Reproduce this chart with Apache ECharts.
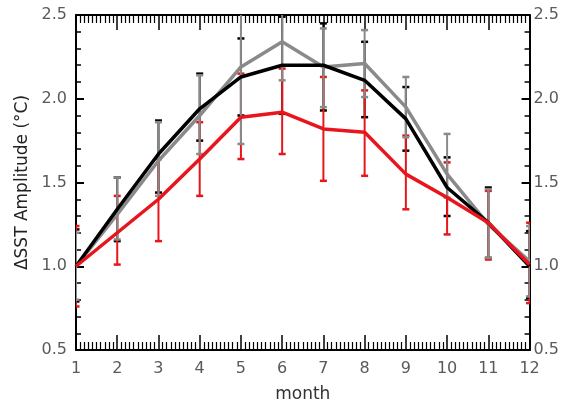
<!DOCTYPE html>
<html>
<head>
<meta charset="utf-8">
<script src="https://cdn.jsdelivr.net/npm/echarts@6/dist/echarts.min.js"></script>
<style>
html,body{margin:0;padding:0;background:#fff;overflow:hidden;width:562px;height:408px;}
#c{width:562px;height:408px;}
</style>
</head>
<body>
<div id="c"></div>
<script>
var months = [1,2,3,4,5,6,7,8,9,10,11,12];
var yTicks = [0.5,1.0,1.5,2.0,2.5];

var redVals   = [1.00,1.20,1.40,1.64,1.89,1.92,1.82,1.80,1.55,1.41,1.26,1.01];
var blackVals = [1.00,1.34,1.67,1.94,2.13,2.20,2.20,2.11,1.88,1.47,1.26,1.00];
var grayVals  = [1.00,1.31,1.63,1.90,2.19,2.34,2.19,2.21,1.95,1.55,1.25,1.03];

var redLow    = [0.76,1.01,1.15,1.42,1.64,1.67,1.51,1.54,1.34,1.19,1.04,0.78];
var redHigh   = [1.24,1.42,1.64,1.86,2.15,2.18,2.13,2.05,1.78,1.62,1.45,1.26];
var blackLow  = [0.79,1.15,1.44,1.75,1.90,1.91,1.93,1.89,1.69,1.30,1.05,0.81];
var blackHigh = [1.22,1.53,1.87,2.15,2.36,2.49,2.45,2.34,2.07,1.65,1.47,1.21];
var grayLow   = [0.80,1.16,1.42,1.67,1.73,2.11,1.95,2.01,1.77,1.41,1.05,0.82];
var grayHigh  = [1.20,1.53,1.86,2.14,2.65,2.57,2.42,2.41,2.13,1.79,1.46,1.24];

var RED = '#e8161c', BLACK = '#000000', GRAY = '#8a8a8a';
var FONT = 'DejaVu Sans, Liberation Sans, sans-serif';

function pairs(vals){ return months.map(function(m,i){ return [m, vals[i]]; }); }
function errData(lo, hi){ return months.map(function(m,i){ return [m, lo[i], hi[i]]; }); }

function errSeries(lo, hi, color, z){
  return {
    type: 'custom',
    xAxisIndex: 0, yAxisIndex: 0,
    clip: true,
    z: z,
    silent: true,
    data: errData(lo, hi),
    encode: { x: 0, y: [1, 2] },
    renderItem: function(params, api){
      var x = api.value(0);
      var p1 = api.coord([x, api.value(1)]);
      var p2 = api.coord([x, api.value(2)]);
      var hw = 3.5;
      return {
        type: 'group',
        children: [
          { type: 'line', shape: { x1: p1[0], y1: p1[1], x2: p2[0], y2: p2[1] }, style: { stroke: color, lineWidth: 2 } },
          { type: 'line', shape: { x1: p1[0]-hw, y1: p1[1], x2: p1[0]+hw, y2: p1[1] }, style: { stroke: color, lineWidth: 2.5 } },
          { type: 'line', shape: { x1: p2[0]-hw, y1: p2[1], x2: p2[0]+hw, y2: p2[1] }, style: { stroke: color, lineWidth: 2.5 } }
        ]
      };
    }
  };
}

function lineSeries(vals, color, z){
  return {
    type: 'line',
    xAxisIndex: 0, yAxisIndex: 0,
    data: pairs(vals),
    symbol: 'none',
    z: z,
    lineStyle: { color: color, width: 3.5 },
    silent: true
  };
}

var labelFont = { color: '#5a5a5a', fontSize: 16, fontFamily: FONT };

var xBase = {
  type: 'value', min: 1, max: 12, interval: 1,
  splitLine: { show: false },
  axisLine: { show: true, onZero: false, lineStyle: { color: '#000', width: 2 } },
  axisTick: { show: true, inside: true, length: 15, lineStyle: { color: '#000', width: 1.5 } },
  minorTick: { show: true, splitNumber: 10, length: 8, lineStyle: { color: '#000', width: 1.2 } }
};

var yBase = {
  type: 'value', min: 0.5, max: 2.5, interval: 0.5,
  splitLine: { show: false },
  axisLine: { show: true, onZero: false, lineStyle: { color: '#000', width: 2 } },
  axisTick: { show: true, inside: true, length: 8, lineStyle: { color: '#000', width: 2 } },
  minorTick: { show: true, splitNumber: 5, length: 5, lineStyle: { color: '#000', width: 1.5 } }
};

var option = {
  animation: false,
  backgroundColor: '#fff',
  grid: { left: 76, right: 28, top: 15, bottom: 51, containLabel: false },
  xAxis: [
    Object.assign({}, xBase, {
      position: 'bottom',
      name: 'month', nameLocation: 'middle', nameGap: 36,
      nameTextStyle: { color: '#333', fontSize: 17, fontFamily: FONT },
      axisLabel: Object.assign({ margin: 11, formatter: function(v){ return String(v); } }, labelFont)
    }),
    Object.assign({}, xBase, {
      position: 'top',
      axisLabel: { show: false }
    })
  ],
  yAxis: [
    Object.assign({}, yBase, {
      position: 'left',
      name: '\u0394SST Amplitude (\u00B0C)', nameLocation: 'middle', nameGap: 40, nameRotate: 90,
      nameTextStyle: { color: '#222', fontSize: 17, fontFamily: FONT },
      axisLabel: Object.assign({ margin: 9, formatter: function(v){ return v.toFixed(1); } }, labelFont)
    }),
    Object.assign({}, yBase, {
      position: 'right',
      axisLabel: Object.assign({ margin: 4, formatter: function(v){ return v.toFixed(1); } }, labelFont)
    })
  ],
  series: [
    errSeries(blackLow, blackHigh, BLACK, 2),
    errSeries(redLow, redHigh, RED, 3),
    errSeries(grayLow, grayHigh, GRAY, 4),
    lineSeries(grayVals, GRAY, 5),
    lineSeries(blackVals, BLACK, 6),
    lineSeries(redVals, RED, 7)
  ]
};

var chart = echarts.init(document.getElementById('c'), null, { renderer: 'canvas' });
chart.setOption(option);
</script>
</body>
</html>
